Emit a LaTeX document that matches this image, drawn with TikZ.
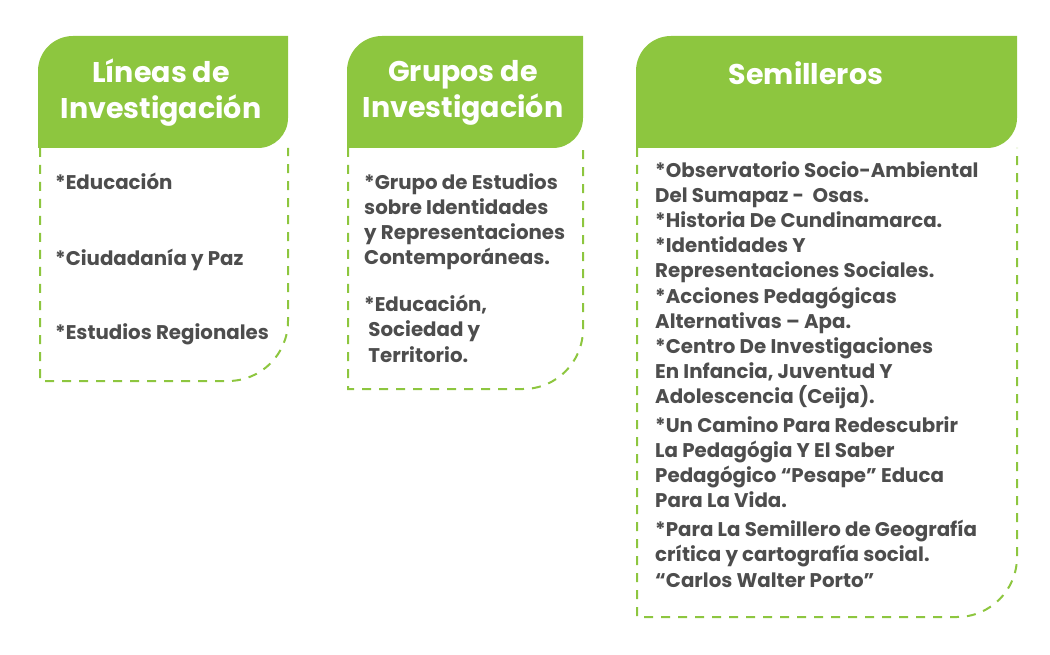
\documentclass[tikz,border=0pt]{standalone}
\usepackage{fontspec}
\setmainfont{Poppins}
\definecolor{gr}{HTML}{8DC63F}
\definecolor{tx}{HTML}{4D4D4D}
\begin{document}
\begin{tikzpicture}[x=1pt,y=-1pt,
 hdr/.style={fill=gr,draw=none},
 dbox/.style={draw=gr,line width=2pt,dash pattern=on 9pt off 8pt},
 htext/.style={text=white,font=\fontsize{28.5}{36}\selectfont\bfseries,align=center},
 btext/.style={text=tx,font=\fontsize{19.8}{25.2}\selectfont\bfseries,align=left,anchor=north west,inner sep=0}]
\useasboundingbox (0,0) rectangle (1050,655);
% box 1
\draw[dbox] (40,148) -- (40,381) -- (228,381) arc[start angle=90,end angle=0,radius=60] -- (288,148);
\draw[hdr] (38,148) -- (38,71) arc[start angle=180,end angle=270,radius=35] -- (288,36) -- (288,118) arc[start angle=0,end angle=90,radius=30] -- cycle;
\node[htext] (h1) at (161,93) {Líneas de\\Investigación};
\node[btext] (b1) at (55,173) {*Educación};
\node[btext] (b2) at (55,249) {*Ciudadanía y Paz};
\node[btext] (b3) at (55,323) {*Estudios Regionales};
% box 2
\draw[dbox] (348,148) -- (348,389) -- (523,389) arc[start angle=90,end angle=0,radius=60] -- (583,148);
\draw[hdr] (347,148) -- (347,71) arc[start angle=180,end angle=270,radius=35] -- (583,36) -- (583,118) arc[start angle=0,end angle=90,radius=30] -- cycle;
\node[htext] (h2) at (463,93) {Grupos de\\Investigación};
\node[btext] (g1) at (364,173) {*Grupo de Estudios\\sobre Identidades\\y Representaciones\\Contemporáneas.};
\node[btext] (g2) at (364,295) {*Educación,\\\ Sociedad y\\\ Territorio.};
% box 3
\draw[dbox] (637,148) -- (637,617) -- (957,617) arc[start angle=90,end angle=0,radius=60] -- (1017,148);
\draw[hdr] (636,148) -- (636,71) arc[start angle=180,end angle=270,radius=35] -- (1017,36) -- (1017,118) arc[start angle=0,end angle=90,radius=30] -- cycle;
\node[htext] (h3) at (806,73) {Semilleros};
\node[btext] (s1) at (655,161) {*Observatorio Socio-Ambiental\\Del Sumapaz -\ \ Osas.\\*Historia De Cundinamarca.\\*Identidades Y\\Representaciones Sociales.\\*Acciones Pedagógicas\\Alternativas – Apa.\\*Centro De Investigaciones\\En Infancia, Juventud Y\\Adolescencia (Ceija).};
\node[btext] (s2) at (655,416) {*Un Camino Para Redescubrir\\La Pedagógia Y El Saber\\Pedagógico “Pesape" Educa\\Para La Vida.};
\node[btext] (s3) at (655,520) {*Para La Semillero de Geografía\\crítica y cartografía social.\\“Carlos Walter Porto”};
\end{tikzpicture}
\end{document}
